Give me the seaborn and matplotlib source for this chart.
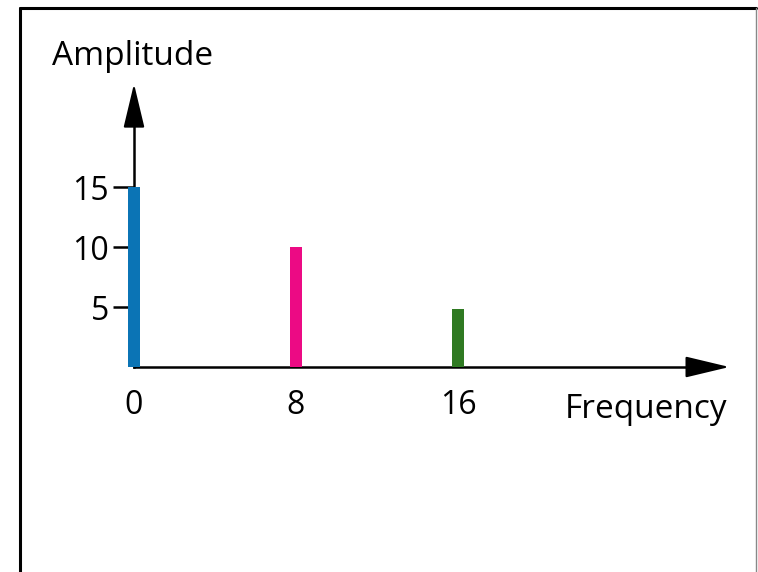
import numpy as np
import pandas as pd
import matplotlib.pyplot as plt
import seaborn as sns
from matplotlib.lines import Line2D

# Data
frequencies = [0, 8, 16]
amplitudes = [15, 10, 4.8]
bar_colors = ['#0b74b5', '#ec0a84', '#2f7a22']
y_tick_values = [5, 10, 15]
x_tick_labels = ['0', '8', '16']

df = pd.DataFrame({'freq': frequencies, 'amp': amplitudes})

sns.set_theme(style='white')
plt.rcParams['font.family'] = ['Open Sans', 'DejaVu Sans']
plt.rcParams['text.color'] = 'black'

W, H = 758, 572
fig = plt.figure(figsize=(W / 100, H / 100), dpi=100)
ax = fig.add_axes([0, 0, 1, 1])

# pixel geometry of the plot origin and scale
x0_px, y0_px = 134, 367
px_per_x, px_per_y = 20.25, 12.0
ax.set_xlim(-x0_px / px_per_x, (W - x0_px) / px_per_x)
ax.set_ylim(-(H - y0_px) / px_per_y, y0_px / px_per_y)

sns.barplot(data=df, x='freq', y='amp', hue='freq', palette=bar_colors,
            native_scale=True, width=0.55 / 8, legend=False, ax=ax,
            saturation=1, linewidth=0)

x_end, y_end = 29.4, 23.6
for s in ['top', 'right']:
    ax.spines[s].set_visible(False)
ax.spines['left'].set_position(('data', 0))
ax.spines['bottom'].set_position(('data', 0))
ax.spines['left'].set_bounds(0, y_end - 1.5)
ax.spines['bottom'].set_bounds(0, x_end - 1.0)
for s in ['left', 'bottom']:
    ax.spines[s].set_color('black')
    ax.spines[s].set_linewidth(1.8)
    ax.spines[s].set_zorder(0.5)

# arrow heads
arrow_style = '-|>,head_length=2.3,head_width=0.55'
ax.annotate('', xy=(0, y_end), xytext=(0, y_end - 2.5),
            arrowprops=dict(arrowstyle=arrow_style, color='black', lw=1.5,
                            shrinkA=0, shrinkB=0))
ax.annotate('', xy=(x_end, 0), xytext=(x_end - 1.6, 0),
            arrowprops=dict(arrowstyle=arrow_style, color='black', lw=1.5,
                            shrinkA=0, shrinkB=0))

ax.set_yticks(y_tick_values)
ax.set_yticklabels([str(v) for v in y_tick_values])
ax.set_xticks(frequencies)
ax.set_xticklabels(x_tick_labels)
ax.tick_params(axis='y', direction='out', length=15, width=1.8, color='black',
               pad=3, labelsize=23, labelcolor='black', left=True)
ax.tick_params(axis='x', length=0, pad=16, labelsize=23, labelcolor='black')
ax.set_xlabel('')
ax.set_ylabel('')

fig.text(52 / W, 1 - 65 / H, 'Amplitude', fontsize=24, ha='left', va='baseline',
         color='black')
fig.text(727 / W, 1 - 418 / H, 'Frequency', fontsize=24, ha='right', va='baseline',
         color='black')

# frame around the picture
fig.add_artist(Line2D([20 / W, 20 / W], [0, 1 - 8 / H], transform=fig.transFigure,
                      color='black', lw=2.2))
fig.add_artist(Line2D([20 / W, 756 / W], [1 - 8 / H, 1 - 8 / H], transform=fig.transFigure,
                      color='black', lw=2.2))
fig.add_artist(Line2D([756 / W, 756 / W], [0, 1 - 8 / H], transform=fig.transFigure,
                      color='#888888', lw=1.0))

fig.savefig('out.png', dpi=100)
